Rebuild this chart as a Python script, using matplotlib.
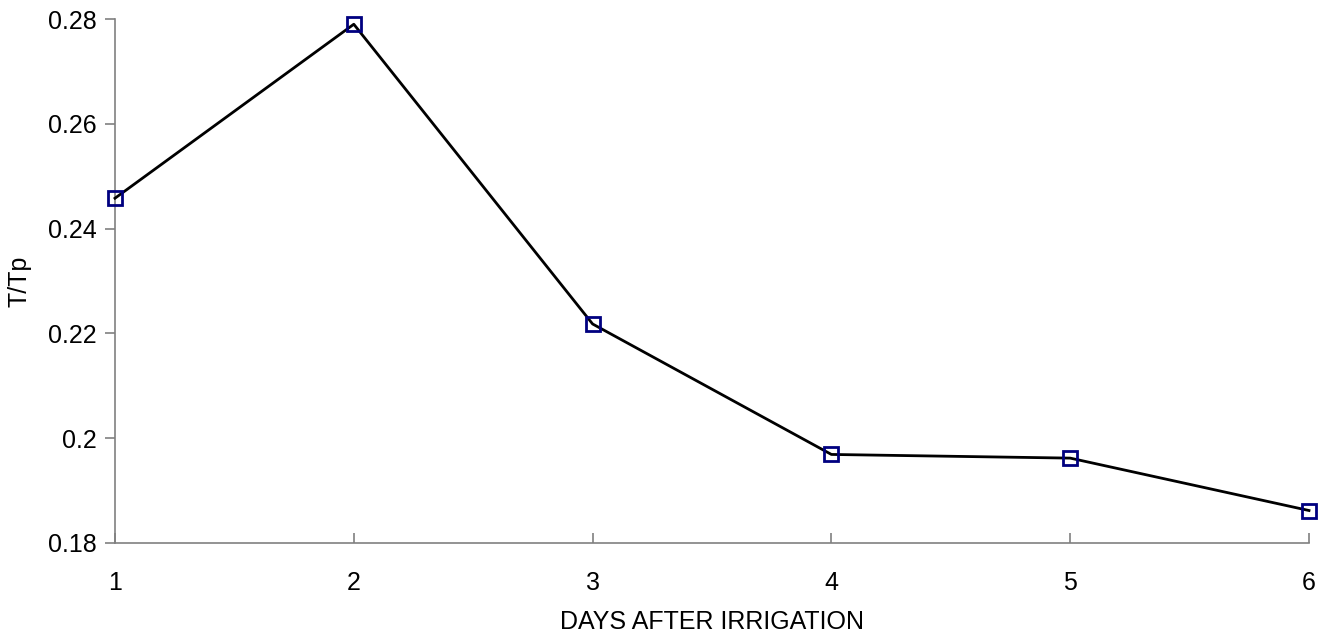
import matplotlib
matplotlib.use("Agg")
import matplotlib.pyplot as plt

days = [1, 2, 3, 4, 5, 6]
t_tp = [0.2458, 0.2790, 0.2218, 0.1969, 0.1962, 0.1862]
xticks = [1, 2, 3, 4, 5, 6]
yticks = [0.18, 0.2, 0.22, 0.24, 0.26, 0.28]
ytick_labels = ["0.18", "0.2", "0.22", "0.24", "0.26", "0.28"]

plt.rcParams['font.family'] = ['Liberation Sans', 'DejaVu Sans']

fig = plt.figure(figsize=(13.38, 6.39), dpi=100)
ax = fig.add_axes([115/1338, 1-543/639, (1309-115)/1338, (543-19)/639])

ax.plot(days, t_tp, color='black', lw=2, marker='s', markersize=10,
        markerfacecolor='none', markeredgecolor='#000080', markeredgewidth=2,
        clip_on=False, zorder=3)

ax.set_xlim(1, 6)
ax.set_ylim(0.18, 0.28)
ax.set_xticks(xticks)
ax.set_yticks(yticks)
ax.set_yticklabels(ytick_labels)

for s in ['top', 'right']:
    ax.spines[s].set_visible(False)
for s in ['left', 'bottom']:
    ax.spines[s].set_color('#808080')
    ax.spines[s].set_linewidth(1.2)

ax.tick_params(axis='y', direction='out', length=7, width=1.2, color='#808080',
               labelsize=18, pad=6)
ax.tick_params(axis='x', direction='in', length=7, width=1.2, color='#808080',
               labelsize=18, pad=20)

ax.set_xlabel('DAYS AFTER IRRIGATION', fontsize=18, labelpad=11)
ax.set_ylabel('T/Tp', fontsize=18, labelpad=12)

fig.savefig('out.png', dpi=100)
